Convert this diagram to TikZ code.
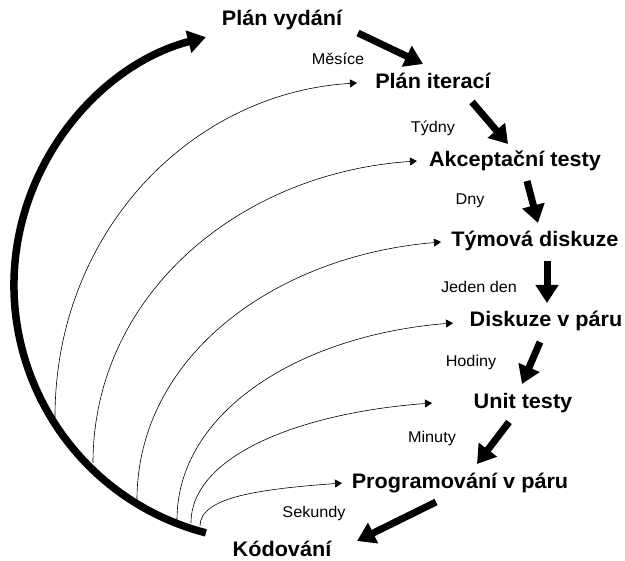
\documentclass[tikz,border=0pt]{standalone}
\usepackage{fontspec}
\setmainfont{Liberation Sans}
\newfontfamily\stagefont[FakeStretch=1.03]{Liberation Sans}
\newfontfamily\spanfont[FakeStretch=1.04]{Liberation Sans}
\usetikzlibrary{arrows.meta}
\begin{document}
\begin{tikzpicture}[x=1pt,y=-1pt,
  stage/.style={font=\stagefont\fontsize{21}{25}\selectfont\bfseries, inner sep=0pt},
  span/.style={font=\spanfont\fontsize{15.6}{18}\selectfont, inner sep=0pt},
  flow/.style={line width=7pt, -{Triangle[length=18pt,width=22pt]}},
  loop/.style={line width=7.5pt, -{Triangle[length=18pt,width=22pt]}},
  feedback/.style={line width=0.6pt, -{Triangle[length=7pt,width=8pt]}}]
\useasboundingbox (0,0) rectangle (625,561);

% practice stages
\node[stage] (rel)  at (282,20)  {Plán vydání};
\node[stage] (iter) at (433,81)  {Plán iterací};
\node[stage] (acc)  at (515,161) {Akceptační testy};
\node[stage] (team) at (535,241) {Týmová diskuze};
\node[stage] (pair) at (546,321) {Diskuze v páru};
\node[stage] (unit) at (523,403) {Unit testy};
\node[stage] (prog) at (460,483) {Programování v páru};
\node[stage] (code) at (282,549) {Kódování};

% time scales
\node[span] (m1) at (338,59)  {Měsíce};
\node[span] (m2) at (433,128) {Týdny};
\node[span] (m3) at (470,201) {Dny};
\node[span] (m4) at (479,287) {Jeden den};
\node[span] (m5) at (471,362) {Hodiny};
\node[span] (m6) at (432,438) {Minuty};
\node[span] (m7) at (314,513) {Sekundy};

% ends of the stage-to-stage arrows
\coordinate (a1) at (358,33);  \coordinate (b1) at (423,64);
\coordinate (a2) at (472,102); \coordinate (b2) at (508,144);
\coordinate (a3) at (527,181); \coordinate (b3) at (538,223);
\coordinate (a4) at (547,261); \coordinate (b4) at (547,303);
\coordinate (a5) at (540,342); \coordinate (b5) at (522,384);
\coordinate (a6) at (509,422); \coordinate (b6) at (477,464);
\coordinate (a7) at (436,502); \coordinate (b7) at (357,541);

\draw[flow] (a1) -- (b1);
\draw[flow] (a2) -- (b2);
\draw[flow] (a3) -- (b3);
\draw[flow] (a4) -- (b4);
\draw[flow] (a5) -- (b5);
\draw[flow] (a6) -- (b6);
\draw[flow] (a7) -- (b7);

% the big return loop from coding back to release planning
\coordinate (hub) at (270,285);
\draw[loop] ([shift={(104.5:256)}]hub) arc[start angle=104.5, end angle=255.5, radius=256];

% feedback curves leaving the loop
\coordinate (s1) at (55,417);  \coordinate (t1) at (357,83);
\coordinate (s2) at (93,463);  \coordinate (t2) at (417,161);
\coordinate (s3) at (137,500); \coordinate (t3) at (441,242);
\coordinate (s4) at (177,520); \coordinate (t4) at (453,323);
\coordinate (s5) at (191,523); \coordinate (t5) at (432,403);
\coordinate (s6) at (200,526); \coordinate (t6) at (342,483);

\draw[feedback] (s1) .. controls +(0,-184) and +(-167,10) .. (t1);
\draw[feedback] (s2) .. controls +(0,-167) and +(-179,12) .. (t2);
\draw[feedback] (s3) .. controls +(0,-143) and +(-167,14) .. (t3);
\draw[feedback] (s4) .. controls +(0,-109) and +(-152,12) .. (t4);
\draw[feedback] (s5) .. controls +(0,-67) and +(-133,10) .. (t5);
\draw[feedback] (s6) .. controls +(0,-30) and +(-78,6) .. (t6);
\end{tikzpicture}
\end{document}
